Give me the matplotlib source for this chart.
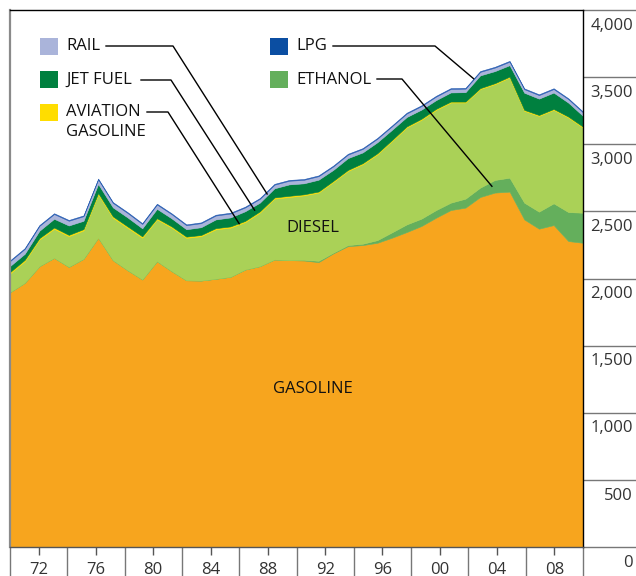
import numpy as np
import matplotlib
matplotlib.use("Agg")
import matplotlib.pyplot as plt
import matplotlib.transforms as mtransforms
from matplotlib.patches import Rectangle

# データ (1970-2009)
years = np.arange(1970, 2010)

gasoline = [1898, 1968, 2092, 2154, 2087, 2147, 2304, 2137, 2062, 1993,
            2129, 2055, 1987, 1985, 1998, 2013, 2067, 2092, 2142, 2137,
            2134, 2122, 2187, 2241, 2249, 2266, 2304, 2346, 2391, 2453,
            2510, 2528, 2607, 2640, 2647, 2440, 2371, 2398, 2279, 2266]
ethanol = [0, 0, 0, 0, 0, 0, 0, 0, 0, 0,
           0, 0, 0, 0, 0, 0, 0, 0, 0, 0,
           5, 10, 5, 8, 10, 20, 40, 57, 55, 57,
           55, 67, 70, 94, 104, 125, 127, 162, 216, 224]
diesel = [140, 161, 199, 216, 228, 211, 323, 316, 316, 311,
          311, 324, 316, 330, 368, 366, 353, 399, 453, 470,
          480, 508, 527, 552, 592, 639, 680, 722, 736, 746,
          746, 716, 734, 714, 746, 684, 713, 696, 704, 634]
avgas = [10, 10, 10, 10, 10, 10, 10, 10, 10, 10,
         9, 9, 9, 9, 9, 9, 9, 9, 9, 9,
         8, 8, 8, 8, 8, 8, 8, 8, 8, 8,
         7, 7, 7, 7, 7, 7, 7, 7, 7, 7]
jet = [45, 45, 55, 65, 70, 62, 67, 67, 67, 60,
       70, 60, 55, 58, 65, 67, 72, 65, 68, 85,
       82, 88, 82, 88, 80, 82, 76, 70, 68, 65,
       68, 70, 95, 90, 85, 128, 122, 122, 104, 80]
rail = [36, 36, 36, 35, 35, 34, 34, 33, 33, 32,
        32, 31, 30, 30, 29, 29, 28, 28, 27, 27,
        26, 26, 26, 26, 26, 26, 26, 26, 26, 26,
        26, 26, 26, 26, 26, 26, 26, 26, 26, 26]
lpg = [6, 6, 6, 6, 6, 6, 6, 6, 6, 6,
       6, 6, 6, 6, 6, 6, 6, 6, 6, 6,
       6, 6, 6, 6, 6, 6, 6, 6, 6, 6,
       6, 6, 6, 6, 6, 6, 6, 6, 6, 6]

year_labels = ["72", "76", "80", "84", "88", "92", "96", "00", "04", "08"]
y_ticks = [0, 500, 1000, 1500, 2000, 2500, 3000, 3500, 4000]
y_labels = ["0", "500", "1,000", "1,500", "2,000", "2,500", "3,000", "3,500", "4,000"]

c_gas = "#F7A51E"
c_eth = "#64AF5C"
c_die = "#AAD157"
c_avg = "#FFDD00"
c_jet = "#00803F"
c_rail = "#AAB4DA"
c_lpg = "#2F62B4"

plt.rcParams["font.family"] = ["Open Sans", "DejaVu Sans"]
plt.rcParams["font.size"] = 12

W, H = 636, 576
fig = plt.figure(figsize=(W / 100, H / 100), dpi=100)
# プロット領域 (ピクセル: x 10-583, y 10-547)
ax = fig.add_axes([10 / W, (H - 547) / H, 573 / W, 537 / H])

layers = [gasoline, ethanol, diesel, avgas, jet, rail, lpg]
colors = [c_gas, c_eth, c_die, c_avg, c_jet, c_rail, c_lpg]
ax.stackplot(years, *layers, colors=colors, edgecolor="face", linewidth=0.4)

ax.set_xlim(1970, 2009)
ax.set_ylim(0, 4000)

# 枠線
ax.spines["left"].set_color("#8a8a8a")
ax.spines["left"].set_linewidth(1.6)
ax.spines["bottom"].set_color("#555555")
ax.spines["top"].set_color("black")
ax.spines["right"].set_color("black")
for s in ax.spines.values():
    if s is not ax.spines["left"]:
        s.set_linewidth(1.0)

# x軸: 区切り線と年ラベル
seps = np.linspace(1970, 2009, 11)
mids = (seps[:-1] + seps[1:]) / 2
ax.set_xticks(mids)
ax.set_xticklabels(year_labels)
ax.set_xticks(seps, minor=True)
ax.tick_params(axis="x", which="major", direction="out", length=6, width=1,
               color="#555555", pad=5, labelsize=12, labelcolor="#333333")
ax.tick_params(axis="x", which="minor", direction="out", length=22, width=1,
               color="#777777")

# y軸: 右側の区切り線
ax.yaxis.tick_right()
ax.set_yticks(y_ticks)
ax.set_yticklabels([""] * len(y_ticks))
ax.tick_params(axis="y", direction="out", length=39, width=1, color="#777777")
yt = ax.yaxis.get_major_ticks()
yt[-1].tick2line.set_color("black")
trans = mtransforms.blended_transform_factory(ax.transAxes, ax.transData)
for v, lab in zip(y_ticks, y_labels):
    ax.annotate(lab, xy=(1, v), xycoords=trans, xytext=(36, -5.5),
                textcoords="offset points", ha="right", va="top",
                fontsize=12, color="#333333")


def px(x, y):
    return ((x - 10) / 573, (547 - y) / 537)


to_axes = ax.transData + ax.transAxes.inverted()
cum = np.cumsum(np.array(layers, dtype=float), axis=0)


def band(x, i, f=0.5):
    lo = np.interp(x, years, cum[i - 1]) if i > 0 else 0
    hi = np.interp(x, years, cum[i])
    return to_axes.transform((x, lo + f * (hi - lo)))


# 凡例
legend = [
    ("RAIL", c_rail, (40, 38), (106, 46), (173, 46), band(1987.5, 5, 0.4)),
    ("JET FUEL", c_jet, (40, 71), (141, 80), (171, 80), band(1986.65, 4, 0.5)),
    ("AVIATION", c_avg, (40, 104), (147, 112), (168, 112), band(1985.6, 3, 0.5)),
    ("LPG", "#0B4EA2", (270, 38), (333, 46), (435, 46), band(2001.55, 6, 1.0)),
    ("ETHANOL", c_eth, (270, 71), (377, 79), (402, 79), band(2002.8, 1, 0.6)),
]
for name, col, sw, p0, p1, end in legend:
    x0, y0 = px(sw[0], sw[1] + 17)
    ax.add_patch(Rectangle((x0, y0), 18 / 573, 17 / 537, transform=ax.transAxes,
                           facecolor=col, edgecolor="none", clip_on=False))
    tx, ty = px(sw[0] + 26, sw[1] + 8.5)
    ax.text(tx, ty, name, transform=ax.transAxes, ha="left", va="center",
            fontsize=12, color="#111111")
    a = px(*p0)
    b = px(*p1)
    ax.plot([a[0], b[0], end[0]], [a[1], b[1], end[1]], color="black",
            lw=1.0, transform=ax.transAxes, clip_on=False)
ax.text(*px(66, 132), "GASOLINE", transform=ax.transAxes, ha="left",
        va="center", fontsize=12, color="#111111")

ax.text(*px(313, 228), "DIESEL", transform=ax.transAxes, ha="center",
        va="center", fontsize=12, color="#111111")
ax.text(*px(313, 389), "GASOLINE", transform=ax.transAxes, ha="center",
        va="center", fontsize=12, color="#111111")

fig.savefig("out.png", dpi=100)
